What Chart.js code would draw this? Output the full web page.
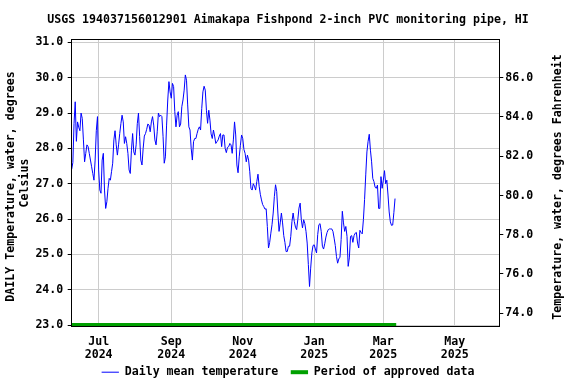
<!DOCTYPE html>
<html>
<head>
<meta charset="utf-8">
<title>USGS 194037156012901 water temperature</title>
<script src="https://cdn.jsdelivr.net/npm/chart.js@4"></script>
<style>
  html, body { margin: 0; padding: 0; background: #fff; }
  #wrap { width: 576px; height: 384px; }
</style>
</head>
<body>
<div id="wrap"><canvas id="tempChart" width="576" height="384"></canvas></div>
<script>
/* ─── Data ─── */
const chartTitle = "USGS 194037156012901 Aimakapa Fishpond 2-inch PVC monitoring pipe, HI";
const startDate   = "2024-06-08";   // day 0 of dailyTemps
const axisEndDate = "2025-06-08";

// daily mean water temperature, deg C, one value per day from startDate
const dailyTemps = [
  27.41, 27.6, 28.71, 29.32, 28.2, 28.75, 28.6, 28.5, 29.0, 28.85,
  28.24, 27.62, 27.86, 28.1, 28.05, 27.86, 27.67, 27.48, 27.29, 27.1,
  27.67, 28.5, 28.9, 27.39, 26.82, 26.73, 27.67, 27.86, 26.82, 26.3,
  26.49, 26.87, 27.15, 27.1, 27.34, 27.58, 28.24, 28.5, 28.1, 27.81,
  28.1, 28.42, 28.7, 28.94, 28.75, 28.14, 28.33, 28.14, 27.86, 27.39,
  27.29, 27.95, 28.42, 27.9, 27.81, 28.1, 28.7, 29.0, 28.33, 27.67,
  27.53, 28.0, 28.35, 28.42, 28.54, 28.69, 28.66, 28.47, 28.75, 28.9,
  28.66, 28.24, 28.1, 28.47, 29.0, 28.9, 28.94, 28.9, 28.33, 27.58,
  27.76, 28.66, 29.37, 29.89, 29.6, 29.42, 29.84, 29.75, 29.04, 28.61,
  28.94, 29.04, 28.61, 28.69, 29.18, 29.37, 29.65, 30.08, 29.93, 29.23,
  28.61, 28.52, 28.0, 27.67, 28.19, 28.28, 28.28, 28.42, 28.54, 28.61,
  28.52, 29.13, 29.6, 29.76, 29.65, 29.08, 28.71, 29.08, 28.8,
  28.41, 28.28, 28.52, 28.35, 28.14, 28.19, 28.24, 28.35, 28.42, 28.05, 28.38,
  28.38, 28.0, 27.88, 28.03, 28.05, 28.14, 28.1, 27.86, 28.24, 28.75,
  28.38, 27.53, 27.31, 27.76, 28.09, 28.38, 28.28, 27.97, 27.86, 27.62,
  27.81, 27.67, 27.34, 26.87, 26.82, 27.0, 26.93, 26.82, 27.06, 27.27,
  26.93, 26.7, 26.54, 26.41, 26.35, 26.28, 26.29, 25.79, 25.18, 25.34,
  25.6, 25.84, 26.17, 26.64, 26.97, 26.78, 26.17, 25.65, 25.89, 26.17,
  25.89, 25.53, 25.34, 25.08, 25.08, 25.23, 25.23, 25.51, 25.93, 26.17,
  25.93, 25.77, 25.7, 25.98, 26.31, 26.45, 25.98, 25.75, 25.98, 25.87,
  25.65, 25.32, 24.71, 24.09, 24.61, 25.04, 25.25, 25.27, 25.15, 25.04,
  25.56, 25.84, 25.87, 25.65, 25.23, 25.15, 25.3, 25.49, 25.62, 25.7,
  25.72, 25.72, 25.72, 25.65, 25.46, 25.25, 24.94, 24.75, 24.87, 24.92,
  25.42, 26.22, 25.89, 25.65, 25.79, 25.51, 24.66, 24.9, 25.51, 25.53,
  25.34, 25.53, 25.6, 25.62, 25.32, 25.18, 25.68, 25.62, 25.58, 25.98,
  26.55, 27.25, 27.9, 28.2, 28.4, 27.95, 27.62, 27.15, 27.06, 26.9,
  26.87, 26.96, 26.3, 26.3, 27.2, 26.87, 27.1, 27.37, 27.0, 27.1,
  26.68, 26.2, 25.92, 25.82, 25.83, 26.18, 26.58
];

// approved-data bar along the bottom
const approvedFrom  = "2024-06-08";
const approvedTo    = "2025-03-12";
const approvedLevel = 23;

// x tick labels
const tickDates  = ["2024-07-01", "2024-09-01", "2024-11-01", "2025-01-01", "2025-03-01", "2025-05-01"];
const tickMonths = ["Jul", "Sep", "Nov", "Jan", "Mar", "May"];
const tickYears  = ["2024", "2024", "2024", "2025", "2025", "2025"];

// y tick values
const celsiusTicks    = [23, 24, 25, 26, 27, 28, 29, 30, 31];
const fahrenheitTicks = [74, 76, 78, 80, 82, 84, 86];

/* ─── Helpers ─── */
const DAY = 86400000;
const dayOf = s => (Date.parse(s) - Date.parse(startDate)) / DAY;
const toF = c => c * 1.8 + 32;

const C_MIN = 22.952, C_MAX = 31.088;

const FONT = "'DejaVu Sans Mono', 'Liberation Mono', monospace";
Chart.defaults.font = { family: FONT, size: 11.6, weight: "bold" };
Chart.defaults.color = "#000";

/* ─── Frame + right-hand axis title (reads bottom-to-top like the left one) ─── */
const frameAndRightTitle = {
  id: "frameAndRightTitle",
  afterDraw(chart) {
    const { ctx, chartArea: a } = chart;
    ctx.save();
    ctx.strokeStyle = "#000";
    ctx.lineWidth = 1;
    const l = Math.floor(a.left) + 0.5, r = Math.floor(a.right) + 0.5;
    const t = Math.floor(a.top) + 0.5, b = Math.floor(a.bottom) + 0.5;
    ctx.strokeRect(l, t, r - l, b - t);

    ctx.translate(558, (a.top + a.bottom) / 2 + 4);
    ctx.rotate(-Math.PI / 2);
    ctx.font = "bold 11.6px " + FONT;
    ctx.fillStyle = "#000";
    ctx.textAlign = "center";
    ctx.textBaseline = "middle";
    ctx.fillText("Temperature, water, degrees Fahrenheit", 0, 0);
    ctx.restore();
  }
};

/* ─── Chart ─── */
new Chart(document.getElementById("tempChart"), {
  type: "line",
  data: {
    datasets: [
      {
        label: "Daily mean temperature ",   // trailing space widens the gap between legend items
        data: dailyTemps.map((t, i) => ({ x: i, y: t })),
        borderColor: "#0000ff",
        borderWidth: 1,
        pointRadius: 0,
        pointStyle: "line",
        tension: 0,
        yAxisID: "y",
      },
      {
        label: "Period of approved data",
        data: [
          { x: dayOf(approvedFrom), y: approvedLevel },
          { x: dayOf(approvedTo),   y: approvedLevel },
        ],
        borderColor: "#00a000",
        borderWidth: 4,
        borderCapStyle: "butt",
        pointRadius: 0,
        pointStyle: "line",
        yAxisID: "y",
      },
    ],
  },
  options: {
    responsive: false,
    devicePixelRatio: 1,
    animation: false,
    events: [],
    layout: { padding: 0 },
    plugins: {
      title: {
        display: true,
        text: chartTitle,
        color: "#000",
        font: { size: 11.6, weight: "bold", lineHeight: 1.2 },
        padding: { top: 13.5, bottom: 11.9 },
      },
      legend: {
        position: "bottom",
        maxHeight: 23.1,
        labels: {
          usePointStyle: true,
          pointStyleWidth: 17.3,
          padding: 5.5,
          color: "#000",
          font: { size: 11.6, weight: "bold" },
        },
      },
      tooltip: { enabled: false },
    },
    scales: {
      x: {
        type: "linear",
        position: "bottom",
        min: 0,
        max: dayOf(axisEndDate),
        afterBuildTicks: s => { s.ticks = tickDates.map(d => ({ value: dayOf(d) })); },
        afterFit: s => { s.height = 34.2; },
        ticks: {
          autoSkip: false,
          maxRotation: 0,
          padding: 9.4,
          font: { size: 11.6, weight: "bold", lineHeight: 1.07 },
          callback: (v, i) => [tickMonths[i], tickYears[i]],
        },
        grid: { color: "#cccccc", drawTicks: false },
        border: { display: false },
      },
      y: {
        position: "left",
        min: C_MIN,
        max: C_MAX,
        afterBuildTicks: s => { s.ticks = celsiusTicks.map(v => ({ value: v })); },
        afterFit: s => { s.width = 71.7; },
        ticks: { padding: 4.4, callback: v => v.toFixed(1) },
        grid: { color: "#cccccc", tickColor: "#000", tickLength: 4 },
        border: { display: false },
        title: {
          display: true,
          // trailing space nudges the long line down, as on the original
          text: ["DAILY Temperature, water, degrees ", "Celsius"],
          color: "#000",
          font: { size: 11.6, weight: "bold", lineHeight: 1.14 },
          padding: { top: 4.7, bottom: 0 },
        },
      },
      y2: {
        position: "right",
        min: toF(C_MIN),
        max: toF(C_MAX),
        afterBuildTicks: s => { s.ticks = fahrenheitTicks.map(v => ({ value: v })); },
        afterFit: s => { s.width = 76.7; },
        ticks: { padding: 2, callback: v => v.toFixed(1) },
        grid: { drawOnChartArea: false, tickColor: "#000", tickLength: 4 },
        border: { display: false },
      },
    },
  },
  plugins: [frameAndRightTitle],
});
</script>
</body>
</html>
